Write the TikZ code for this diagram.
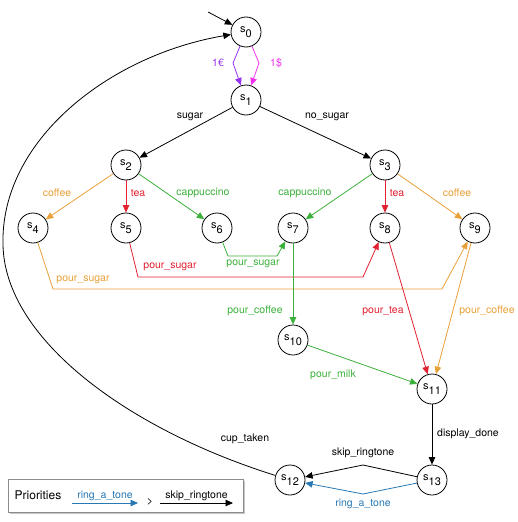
\documentclass[tikz,border=0pt]{standalone}
\usepackage{fontspec}
\setmainfont{TeX Gyre Heros}
\usetikzlibrary{arrows.meta,shadows}
\definecolor{coffeec}{RGB}{232,160,56}
\definecolor{teac}{RGB}{226,32,48}
\definecolor{cappc}{RGB}{60,176,60}
\definecolor{euroc}{RGB}{150,50,240}
\definecolor{dollarc}{RGB}{240,50,240}
\definecolor{ringc}{RGB}{40,120,180}
\newcommand{\stlabel}[1]{s\raisebox{-5pt}{#1}}
\begin{document}
\begin{tikzpicture}[x=1pt,y=-1pt,line width=0.8pt,
    state/.style={circle,draw,minimum size=30pt,inner sep=0pt,
      font=\fontsize{11}{13}\selectfont},
    lbl/.style={inner sep=0pt,font=\fontsize{10.5}{12}\selectfont},
    >={Triangle[length=7.5pt,width=6.5pt]}]
      \useasboundingbox (0,0) rectangle (518,522);
      \draw
        (246,32) node[state] (s0){\stlabel{0}}
        (246,100) node[state] (s1){\stlabel{1}}
        (126,165) node[state] (s2){\stlabel{2}}
        (385,165) node[state] (s3){\stlabel{3}}
        (33,228) node[state] (s4){\stlabel{4}}
        (126,228) node[state] (s5){\stlabel{5}}
        (217,228) node[state] (s6){\stlabel{6}}
        (293,228) node[state] (s7){\stlabel{7}}
        (385,228) node[state] (s8){\stlabel{8}}
        (475,228) node[state] (s9){\stlabel{9}}
        (293,340) node[state] (s10){\stlabel{10}}
        (432,389) node[state] (s11){\stlabel{11}}
        (290,480) node[state] (s12){\stlabel{12}}
        (432,480) node[state] (s13){\stlabel{13}};
      \coordinate (init) at (208,12);
      \begin{scope}[->]
        \draw (init) -- (s0);
        \draw[euroc] (s0) -- (233,63) -- (s1);
        \draw[dollarc] (s0) -- (259,63) -- (s1);
        \draw (s1) -- (s2);
        \draw (s1) -- (s3);
        \draw[coffeec] (s2) -- (s4);
        \draw[teac] (s2) -- (s5);
        \draw[cappc] (s2) -- (s6);
        \draw[cappc] (s3) -- (s7);
        \draw[teac] (s3) -- (s8);
        \draw[coffeec] (s3) -- (s9);
        \draw[coffeec] (s4) -- (53,289) -- (442,289) -- (s9);
        \draw[teac] (s5) -- (138,277) -- (363,277) -- (s8);
        \draw[cappc] (s6) -- (228,256) -- (277,256) -- (s7);
        \draw[cappc] (s7) -- (s10);
        \draw[teac] (s8) -- (s11);
        \draw[coffeec] (s9) -- (s11);
        \draw[cappc] (s10) -- (s11);
        \draw (s11) -- (s13);
        \draw (s13) -- (363,465) -- (s12);
        \draw[ringc] (s13) -- (363,494) -- (s12);
        \draw (s12) .. controls (130,430) and (5,340) .. (3,245)
          .. controls (0,140) and (110,55) .. (s0);
      \end{scope}
      \path
        (218,63) node[lbl,euroc] (leuro){1€}
        (276,63) node[lbl,dollarc] (ldollar){1\$}
        (190,117) node[lbl] (lsugar){sugar}
        (327,117) node[lbl] (lnosugar){no\_sugar}
        (57,193) node[lbl,coffeec] (lcoffee2){coffee}
        (138,193) node[lbl,teac] (ltea2){tea}
        (203,193) node[lbl,cappc] (lcapp2){cappuccino}
        (305,193) node[lbl,cappc] (lcapp3){cappuccino}
        (397,193) node[lbl,teac] (ltea3){tea}
        (457,193) node[lbl,coffeec] (lcoffee3){coffee}
        (83,280) node[lbl,coffeec] (lsug4){pour\_sugar}
        (170,267) node[lbl,teac] (lsug5){pour\_sugar}
        (253,264) node[lbl,cappc] (lsug6){pour\_sugar}
        (255,311) node[lbl,cappc] (lcof7){pour\_coffee}
        (383,311) node[lbl,teac] (ltea8){pour\_tea}
        (487,311) node[lbl,coffeec] (lcof9){pour\_coffee}
        (333,375) node[lbl,cappc] (lmilk){pour\_milk}
        (468,434) node[lbl] (ldisplay){display\_done}
        (363,453) node[lbl] (lskip){skip\_ringtone}
        (363,504) node[lbl,ringc] (lring){ring\_a\_tone}
        (245,439) node[lbl] (lcup){cup\_taken};
      % legend
      \node[draw=black!45,fill=white,minimum width=235pt,minimum height=33pt,inner sep=0pt,
        drop shadow={shadow xshift=2pt,shadow yshift=-2pt,opacity=.45}] (legend) at (125.5,495.5) {};
      \node[lbl,font=\fontsize{12}{14}\selectfont] (prio) at (38,495) {Priorities};
      \coordinate (ra) at (72,503);
      \coordinate (rb) at (138,503);
      \coordinate (sa) at (160,503);
      \coordinate (sb) at (233,503);
      \draw[->,ringc] (ra) -- (rb) node[midway,above=2pt,lbl] (lpring){ring\_a\_tone};
      \node[lbl] (gt) at (150,502) {\textgreater};
      \draw[->] (sa) -- (sb) node[midway,above=2pt,lbl] (lpskip){skip\_ringtone};
    \end{tikzpicture}
\end{document}
